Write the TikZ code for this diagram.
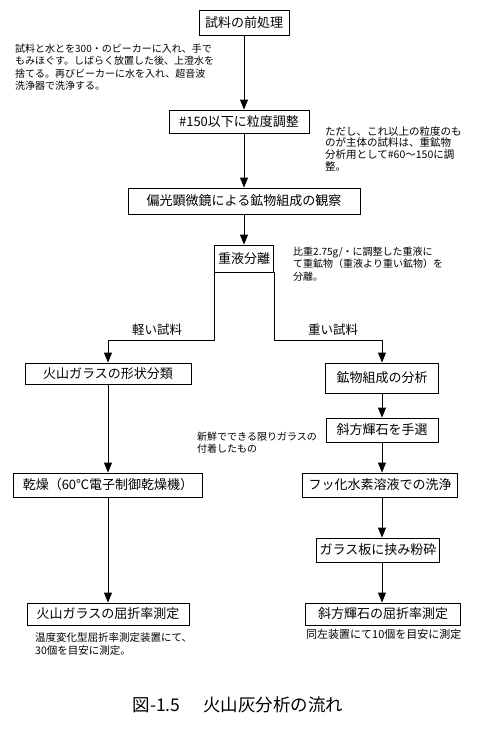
\documentclass[tikz,border=0pt]{standalone}
\usepackage{fontspec}
\setmainfont{Noto Sans CJK JP}
\usetikzlibrary{arrows.meta}

\begin{document}
\begin{tikzpicture}[x=1pt,y=-1pt,
  box/.style={draw, line width=0.9pt, inner sep=0pt, font=\fontsize{13}{13}\selectfont},
  note/.style={anchor=north west, align=left, inner sep=0pt, font=\fontsize{10}{12.2}\selectfont},
  flow/.style={line width=0.9pt, -{Triangle[length=10pt,width=8pt]}}]
\useasboundingbox (0,0) rectangle (479,732);
% main column
\node[box, minimum width=90pt, minimum height=25pt] (prep) at (244,22.5) {試料の前処理};
\node[box, minimum width=140pt, minimum height=23pt] (sieve) at (239,121.5) {\#150以下に粒度調整};
\node[box, minimum width=232pt, minimum height=26pt] (micro) at (244,201) {偏光顕微鏡による鉱物組成の観察};
\node[box, minimum width=59pt, minimum height=27pt] (sep) at (244,258.5) {重液分離};
\coordinate (fork) at (244,340);
% left branch
\node[box, minimum width=166pt, minimum height=21pt] (glass) at (108,373.5) {火山ガラスの形状分類};
\node[box, minimum width=189pt, minimum height=24pt] (dry) at (108,485) {乾燥（60℃電子制御乾燥機）};
\node[box, minimum width=162pt, minimum height=22pt] (riglass) at (108,614) {火山ガラスの屈折率測定};
% right branch
\node[box, minimum width=113pt, minimum height=30pt] (mineral) at (382,378) {鉱物組成の分析};
\node[box, minimum width=112pt, minimum height=24pt] (opx) at (382,430) {斜方輝石を手選};
\node[box, minimum width=155pt, minimum height=24pt] (hf) at (380,485) {フッ化水素溶液での洗浄};
\node[box, minimum width=123pt, minimum height=24pt] (crush) at (378,550) {ガラス板に挟み粉砕};
\node[box, minimum width=155pt, minimum height=22pt] (riopx) at (383,614) {斜方輝石の屈折率測定};
% connectors
\draw[flow] (prep) -- (prep |- sieve.north);
\draw[flow] (prep |- sieve.south) -- (micro);
\draw[flow] (micro) -- (sep);
\draw[flow] (sep.south west) -- (sep.south west |- fork) -| (glass.north);
\draw[flow] (sep.south east) -- (sep.south east |- fork) -| (mineral.north);
\draw[flow] (glass) -- (glass |- dry.north);
\draw[flow] (dry) -- (dry |- riglass.north);
\draw[flow] (mineral) -- (mineral |- opx.north);
\draw[flow] (opx) -- (opx |- hf.north);
\draw[flow] (opx |- hf.south) -- (opx |- crush.north);
\draw[flow] (opx |- crush.south) -- (opx |- riopx.north);
% branch labels
\node[font=\fontsize{12.5}{13}\selectfont] (light) at (157,330) {軽い試料};
\node[font=\fontsize{12.5}{13}\selectfont] (heavy) at (333,330) {重い試料};
% notes
\node[note] (n1) at (15,44) {試料と水とを300・のビーカーに入れ、手で\\もみほぐす。しばらく放置した後、上澄水を\\捨てる。再びビーカーに水を入れ、超音波\\洗浄器で洗浄する。};
\node[note, font=\fontsize{10.5}{11.8}\selectfont] (n2) at (325,126) {ただし、これ以上の粒度のも\\のが主体の試料は、重鉱物\\分析用として\#60～150に調\\整。};
\node[note] (n3) at (293,247) {比重2.75g/・に調整した重液に\\て重鉱物（重液より重い鉱物）を\\分離。};
\node[note] (n4) at (197,432) {新鮮でできる限りガラスの\\付着したもの};
\node[note, font=\fontsize{10.5}{13}\selectfont] (n5) at (35,632) {温度変化型屈折率測定装置にて、\\30個を目安に測定。};
\node[note, font=\fontsize{11}{12}\selectfont] (n6) at (306,629) {同左装置にて10個を目安に測定};
% caption
\node[font=\fontsize{17.5}{18}\selectfont] (caption) at (238,705) {図-1.5\hspace{1.3em}火山灰分析の流れ};
\end{tikzpicture}
\end{document}
